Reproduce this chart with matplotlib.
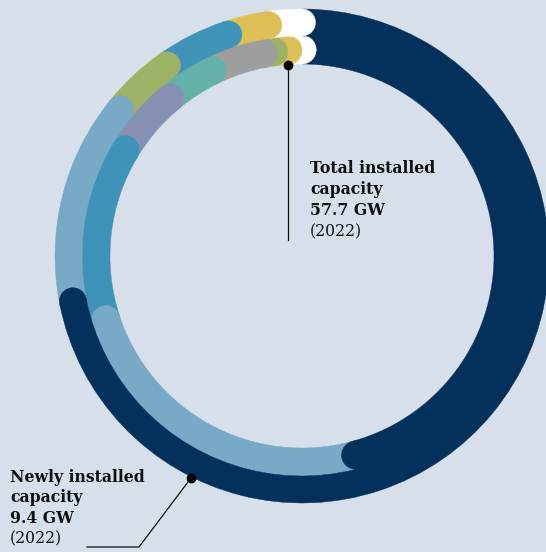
import matplotlib
matplotlib.use("Agg")
import matplotlib.pyplot as plt
from matplotlib.patches import Wedge, Circle
import numpy as np

# ---- data (shares of each ring, clockwise from 12 o'clock) ----
new_shares = [71.9, 13.9, 4.4, 4.7, 2.8, 2.3]          # outer ring: newly installed 2022
new_colors = ["#03315b", "#78a9c7", "#9db264", "#3f93b9", "#dcc056", "#ffffff"]

total_shares = [45.8, 24.2, 13.6, 5.3, 3.9, 4.2, 0.8, 1.1, 1.1]   # inner ring: total installed
total_colors = ["#03315b", "#78a9c7", "#3f93b9", "#8690b3", "#64b1a9",
                "#9e9e9e", "#9db264", "#dcc056", "#ffffff"]

total_lines = ["Total installed", "capacity", "57.7 GW"]
total_year = "(2022)"
new_lines = ["Newly installed", "capacity", "9.4 GW"]
new_year = "(2022)"

BG = "#d7e0ea"
W, H = 546, 552
fig = plt.figure(figsize=(W / 100, H / 100), dpi=100)
fig.patch.set_facecolor(BG)
ax = fig.add_axes([0, 0, 1, 1])
ax.set_xlim(0, W)
ax.set_ylim(0, H)
ax.axis("off")

cx, cy = 302, H - 256


def ring(shares, colors, r_out, width):
    cum = np.cumsum([0] + list(shares)) / sum(shares) * 360
    for i, c in enumerate(colors):
        a0, a1 = cum[i], cum[i + 1]
        ax.add_patch(Wedge((cx, cy), r_out, 90 - a1, 90 - a0, width=width,
                           facecolor=c, edgecolor=c, linewidth=0.3))
    rm = r_out - width / 2
    for i in reversed(range(len(colors))):
        a1 = np.deg2rad(cum[i + 1])
        ax.add_patch(Circle((cx + rm * np.sin(a1), cy + rm * np.cos(a1)), width / 2,
                            facecolor=colors[i], edgecolor=colors[i], linewidth=0.3))


ring(total_shares, total_colors, 220.5, 28.5)
ring(new_shares, new_colors, 247, 27)

# ---- annotations ----
txt = dict(family="DejaVu Serif", fontsize=11.3, color="#111111", va="baseline", ha="left")
# total
ax.plot([288, 288], [H - 65, H - 240], color="#111111", lw=0.9)
ax.plot([288], [H - 65], "o", color="#000000", ms=6)
for k, s in enumerate(total_lines):
    ax.text(310, H - (173 + 21 * k), s, fontweight="bold", **txt)
ax.text(310, H - (173 + 21 * 3), total_year, **txt)

# newly
ax.plot([191, 139, 87], [H - 478, H - 547, H - 547], color="#111111", lw=0.9)
ax.plot([191], [H - 478], "o", color="#000000", ms=6)
for k, s in enumerate(new_lines):
    ax.text(10, H - (482 + 20.5 * k), s, fontweight="bold", **txt)
ax.text(10, H - (482 + 20.5 * 3), new_year, **txt)

fig.savefig("out.png", dpi=100, facecolor=BG)
